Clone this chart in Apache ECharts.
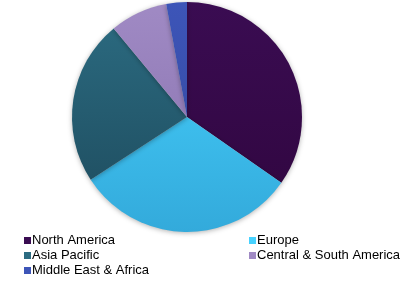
<!DOCTYPE html>
<html><head><meta charset="utf-8">
<script src="https://cdn.jsdelivr.net/npm/echarts@6/dist/echarts.min.js"></script>
<style>html,body{margin:0;padding:0;background:#fff}#c{width:404px;height:282px}</style>
</head><body><div id="c"></div>
<script>
const regions = ['North America','Europe','Asia Pacific','Central & South America','Middle East & Africa'];
const shares = [34.7, 31.1, 23.2, 8.1, 2.9];
const topColors = ['#3a0c52','#47d2ff','#2c6c82','#a08ac4','#3d55b8'];
const bottomColors = ['#30063f','#33aadb','#1d4a5c','#8670ad','#31479c'];

function grad(i){
  return {type:'linear', x:0, y:2, x2:0, y2:232, global:true,
    colorStops:[{offset:0,color:topColors[i]},{offset:1,color:bottomColors[i]}]};
}
const data = regions.map((n,i)=>({name:n, value:shares[i], itemStyle:{color:grad(i)}}));
const chart = echarts.init(document.getElementById('c'), null, {renderer:'canvas'});
const legendText = {fontFamily:'Liberation Sans, Arial, sans-serif', fontSize:13, color:'#000', lineHeight:15, padding:[0,0,0,-4]};
chart.setOption({
  animation:false,
  legend:[
    {data:[regions[0],regions[2],regions[4]], orient:'vertical', left:24, top:233, height:50, padding:0, icon:'rect',
     itemWidth:7, itemHeight:7, itemGap:0, textStyle:legendText, selectedMode:false},
    {data:[regions[1],regions[3]], orient:'vertical', left:249, top:233, height:50, padding:0, icon:'rect',
     itemWidth:7, itemHeight:7, itemGap:0, textStyle:legendText, selectedMode:false}
  ],
  series:[{
    type:'pie', center:[187,117], radius:115, startAngle:90, clockwise:true,
    label:{show:false}, labelLine:{show:false}, silent:true,
    itemStyle:{shadowBlur:5, shadowColor:'rgba(0,0,0,0.3)', shadowOffsetY:1},
    data:data
  }]
});
</script></body></html>
